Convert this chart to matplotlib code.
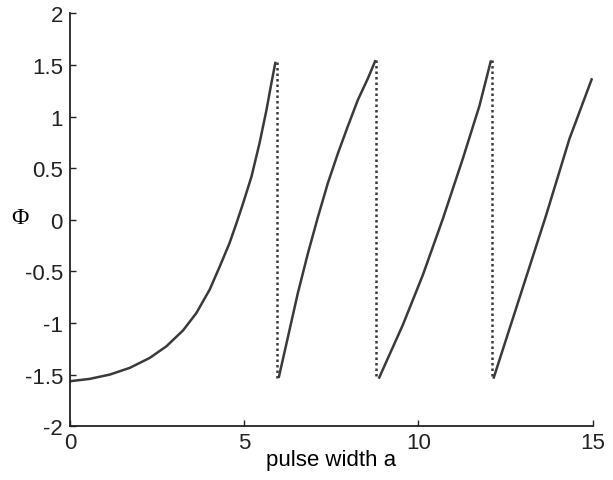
import matplotlib
matplotlib.use("Agg")
import matplotlib.pyplot as plt

# branch values (pulse width a, phase Phi)
a1 = [0.0, 0.57, 1.15, 1.72, 2.29, 2.77, 3.25, 3.63, 4.01, 4.30, 4.58, 4.78,
      4.97, 5.21, 5.44, 5.64, 5.78, 5.90]
p1 = [-1.565, -1.542, -1.50, -1.435, -1.339, -1.226, -1.071, -0.903, -0.677,
      -0.452, -0.226, -0.032, 0.161, 0.419, 0.742, 1.065, 1.323, 1.532]
a2 = [5.99, 6.26, 6.54, 6.83, 7.12, 7.40, 7.69, 7.97, 8.26, 8.55, 8.77]
p2 = [-1.532, -1.129, -0.71, -0.323, 0.032, 0.355, 0.645, 0.903, 1.161, 1.371, 1.548]
a3 = [8.86, 9.55, 10.12, 10.70, 11.27, 11.75, 12.08]
p3 = [-1.54, -1.02, -0.54, 0.01, 0.59, 1.106, 1.545]
a4 = [12.15, 12.89, 13.66, 14.33, 14.98]
p4 = [-1.54, -0.765, 0.042, 0.784, 1.372]
# jumps between branches
jump_a = [5.94, 8.79, 12.10]
jump_top = [1.532, 1.548, 1.545]
jump_bottom = [-1.532, -1.54, -1.54]

col = "#3a3a3a"
fig = plt.figure(figsize=(6.13, 4.81), dpi=100)
ax = fig.add_axes([0.114, 0.112, 0.853, 0.858])

for xs, ys in [(a1, p1), (a2, p2), (a3, p3), (a4, p4)]:
    ax.plot(xs, ys, color=col, lw=1.8, solid_capstyle="butt")
for xa, yt, yb in zip(jump_a, jump_top, jump_bottom):
    ax.plot([xa, xa], [yt, yb], color=col, lw=1.8, linestyle=(0, (1, 1.2)))

ax.set_xlim(0, 15)
ax.set_ylim(-2, 2)
ax.set_xticks([0, 5, 10, 15])
ax.set_yticks([-2, -1.5, -1, -0.5, 0, 0.5, 1, 1.5, 2])
ax.set_yticklabels(["-2", "-1.5", "-1", "-0.5", "0", "0.5", "1", "1.5", "2"])
ax.spines["top"].set_visible(False)
ax.spines["right"].set_visible(False)
for s in ["left", "bottom"]:
    ax.spines[s].set_color("#222222")
    ax.spines[s].set_linewidth(1.3)
ax.tick_params(direction="in", length=4, width=1, colors="#222222", labelsize=16)
ax.tick_params(axis="y", pad=5)
ax.tick_params(axis="x", pad=4)
for lab in ax.get_xticklabels() + ax.get_yticklabels():
    lab.set_family("Liberation Sans")

ax.set_xlabel("pulse width a", fontsize=16, family="Liberation Sans", labelpad=-3)
fig.text(0.033, 0.545, "\u03a6", fontsize=17, family="Liberation Serif",
         ha="center", va="center")

fig.savefig("out.png", dpi=100)
